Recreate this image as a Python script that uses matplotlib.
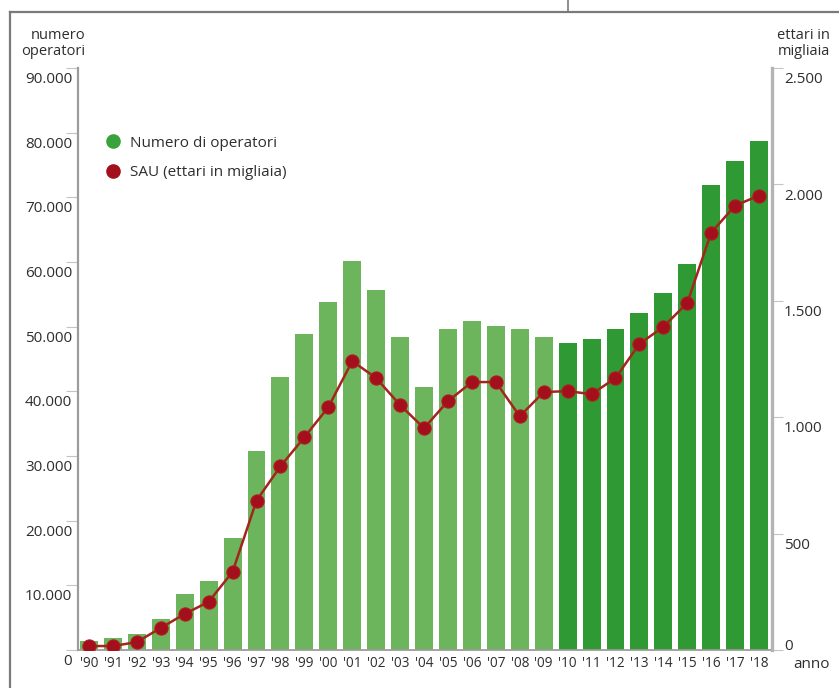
import matplotlib
matplotlib.use("Agg")
import matplotlib.pyplot as plt
from matplotlib.lines import Line2D
from matplotlib.transforms import ScaledTranslation
import numpy as np

plt.rcParams['font.family'] = ['Open Sans', 'DejaVu Sans']

# ---- data ----
years = ["'90", "'91", "'92", "'93", "'94", "'95", "'96", "'97", "'98", "'99",
         "'00", "'01", "'02", "'03", "'04", "'05", "'06", "'07", "'08", "'09",
         "'10", "'11", "'12", "'13", "'14", "'15", "'16", "'17", "'18"]
operatori = [1400, 1850, 2500, 4800, 8700, 10700, 17300, 30800, 42200, 48800,
             53800, 60100, 55600, 48400, 40700, 49600, 50900, 50100, 49600, 48400,
             47500, 48100, 49600, 52100, 55200, 59700, 71900, 75600, 78700]
sau = [17, 17, 34, 95, 155, 207, 336, 642, 789, 914,
       1043, 1241, 1168, 1052, 953, 1069, 1151, 1151, 1004, 1108,
       1112, 1099, 1168, 1315, 1388, 1491, 1793, 1909, 1952]
left_ticks = [0, 10000, 20000, 30000, 40000, 50000, 60000, 70000, 80000, 90000]
left_labels = ['0', '10.000', '20.000', '30.000', '40.000', '50.000', '60.000',
               '70.000', '80.000', '90.000']
right_ticks = [0, 500, 1000, 1500, 2000, 2500]
right_labels = ['0', '500', '1.000', '1.500', '2.000', '2.500']
n_light = 20  # '90-'09 lighter, '10-'18 darker

LIGHT = '#6cb55c'
DARK = '#2f9a33'
LINE = '#a3261c'
MARK = '#a30f1b'
TXT = '#2e2e2e'
AXC = '#9c9c9c'

W, H = 839, 688
fig = plt.figure(figsize=(W / 100, H / 100), dpi=100)
fig.patch.set_facecolor('white')

ax_l, ax_r, ax_b, ax_t = 78, 772, 650, 68
ax = fig.add_axes([ax_l / W, (H - ax_b) / H, (ax_r - ax_l) / W, (ax_b - ax_t) / H])
ax2 = ax.twinx()

x = np.arange(len(years))
colors = [LIGHT] * n_light + [DARK] * (len(years) - n_light)
ax.bar(x, operatori, width=0.75, color=colors, zorder=2)
ax.set_xlim(-0.46, len(years) - 0.46)
ax.set_ylim(0, 90000)
ax2.set_ylim(0, 2500)

ax2.plot(x, sau, color=LINE, lw=1.8, marker='o', markersize=9.5,
         markerfacecolor=MARK, markeredgecolor='#b01c22', markeredgewidth=0.8,
         zorder=5)

# spines
ax.spines['top'].set_visible(False)
ax2.spines['top'].set_visible(False)
ax2.spines['left'].set_visible(False)
ax2.spines['bottom'].set_visible(False)
ax.spines['right'].set_visible(False)
ax.spines['left'].set_color(AXC)
ax.spines['left'].set_linewidth(1.6)
ax.spines['bottom'].set_color(AXC)
ax.spines['bottom'].set_linewidth(1.3)
ax2.spines['right'].set_color('#b4b4b4')
ax2.spines['right'].set_linewidth(2.4)

# y ticks
ax.set_yticks(left_ticks, left_labels, va='top', fontsize=11, color=TXT)
ax.tick_params(axis='y', direction='out', length=8.5, width=0.8, color='#c4c4c4', pad=-4.3)
ax2.set_yticks(right_ticks, right_labels, va='top', fontsize=11, color=TXT)
ax2.tick_params(axis='y', direction='out', length=8.0, width=0.8, color='#c4c4c4', pad=0.5)
off = ScaledTranslation(0, -3 / 72, fig.dpi_scale_trans)
for lab in ax.get_yticklabels() + ax2.get_yticklabels():
    lab.set_transform(lab.get_transform() + off)
ax2.get_yticklabels()[0].set_va('bottom')

# x ticks
ax.set_xticks(x, years, fontsize=9.8, color=TXT)
ax.tick_params(axis='x', length=0, pad=4)

# axis titles
fig.text(85 / W, 1 - 28 / H, 'numero\noperatori', ha='right', va='top',
         fontsize=10.5, color=TXT, linespacing=1.05)
fig.text(830 / W, 1 - 28 / H, 'ettari in\nmigliaia', ha='right', va='top',
         fontsize=10.5, color=TXT, linespacing=1.05)
fig.text(793 / W, 1 - 665 / H, 'anno', ha='left', va='center',
         fontsize=11, color=TXT)

# legend
handles = [Line2D([], [], ls='none', marker='o', markersize=9.5, color='#3aa23a'),
           Line2D([], [], ls='none', marker='o', markersize=9.5, color=MARK)]
ax2.legend(handles, ['Numero di operatori', 'SAU (ettari in migliaia)'],
           loc='upper left', bbox_to_anchor=(93 / W, 1 - 122 / H),
           bbox_transform=fig.transFigure, frameon=False, fontsize=11,
           handlelength=0.8, handletextpad=0.7, labelspacing=0.95,
           labelcolor=TXT)

# page frame (top and left edges)
fig.add_artist(Line2D([10 / W, 10 / W], [0, 1 - 12 / H], transform=fig.transFigure,
                      color='#7a7a7a', lw=1.6))
fig.add_artist(Line2D([10 / W, 1], [1 - 12 / H, 1 - 12 / H], transform=fig.transFigure,
                      color='#7a7a7a', lw=1.6))
fig.add_artist(Line2D([568 / W, 568 / W], [1 - 12 / H, 1], transform=fig.transFigure,
                      color='#7a7a7a', lw=1.2))

fig.savefig('out.png', dpi=100, facecolor='white')
